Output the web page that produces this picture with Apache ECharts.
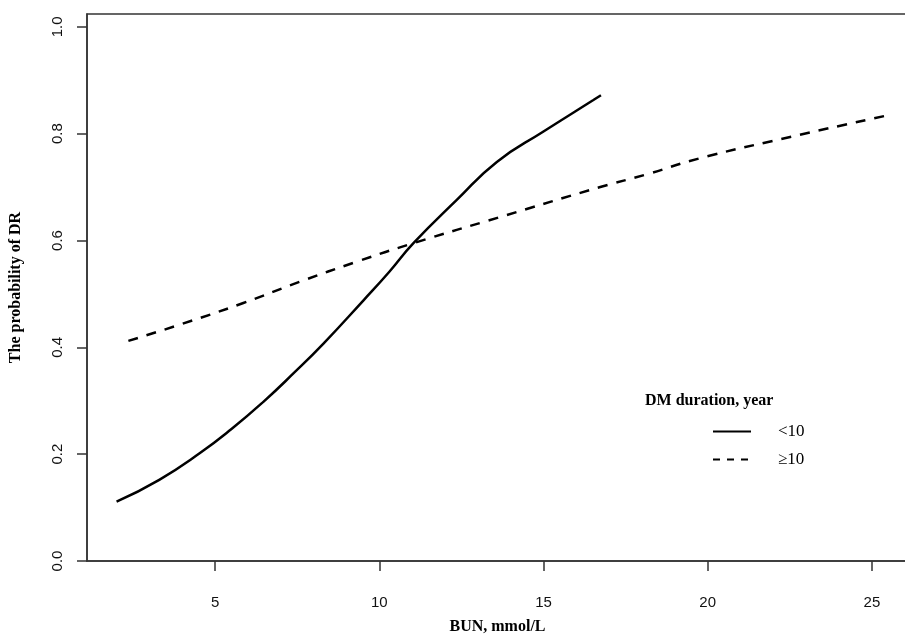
<!DOCTYPE html>
<html>
<head>
<meta charset="utf-8">
<script src="https://cdn.jsdelivr.net/npm/echarts@6/dist/echarts.min.js"></script>
<style>
  html, body { margin: 0; padding: 0; background: #fff; }
  #chart { width: 905px; height: 636px; }
</style>
</head>
<body>
<div id="chart"></div>
<script>
// curve for DM duration < 10 years: [BUN, probability]
var shortDuration = [
  [2.0, 0.111], [3.3, 0.152], [4.54, 0.202], [5.5, 0.247], [6.47, 0.298],
  [7.4, 0.352], [8.3, 0.407], [9.52, 0.488], [10.3, 0.541], [11.04, 0.595],
  [12.36, 0.676], [13.58, 0.747], [15.0, 0.804], [16.52, 0.863], [16.75, 0.872]
];

// curve for DM duration >= 10 years
var longDuration = [
  [2.36, 0.412], [4.0, 0.444], [5.86, 0.483], [7.59, 0.523], [9.3, 0.560],
  [11.04, 0.595], [13.68, 0.644], [16.73, 0.700], [18.15, 0.724],
  [19.77, 0.754], [22.31, 0.791], [25.38, 0.833]
];

var xTicks = [5, 10, 15, 20, 25];
var yTicks = [0, 0.2, 0.4, 0.6, 0.8, 1.0];

var serifBold = { fontFamily: "Liberation Serif", fontWeight: "bold", fontSize: 16, color: "#000" };

var myChart = echarts.init(document.getElementById("chart"), null, { renderer: "canvas" });

var option = {
  backgroundColor: "#fff",
  animation: false,
  title: {
    text: "DM duration, year",
    left: 640,
    top: 388,
    textStyle: serifBold
  },
  legend: {
    orient: "vertical",
    left: 707,
    top: 418,
    itemWidth: 38,
    itemHeight: 14,
    itemGap: 11,
    itemStyle: { opacity: 0 },
    lineStyle: { width: 2 },
    textStyle: {
      fontFamily: "Liberation Serif",
      fontSize: 17,
      color: "#000",
      padding: [0, 0, 0, 22]
    },
    data: [
      { name: "<10" },
      { name: "≥10", lineStyle: { type: [7, 7], width: 2 } }
    ]
  },
  grid: {
    left: 87,
    top: 14,
    width: 821,
    height: 547,
    outerBoundsMode: "none",
    containLabel: false,
    show: true,
    borderColor: "#333",
    borderWidth: 1.5
  },
  xAxis: {
    type: "value",
    min: 1.1,
    max: 26.1,
    name: "BUN, mmol/L",
    nameLocation: "middle",
    nameGap: 58,
    nameMoveOverlap: false,
    nameTextStyle: serifBold,
    splitLine: { show: false },
    axisLine: { show: true, onZero: false, lineStyle: { color: "#333", width: 1.5 } },
    axisTick: { show: true, length: 10, customValues: xTicks, lineStyle: { color: "#333", width: 1.5 } },
    axisLabel: {
      customValues: xTicks,
      margin: 34,
      fontFamily: "Liberation Sans",
      fontSize: 15,
      color: "#111"
    }
  },
  yAxis: {
    type: "value",
    min: 0,
    max: 1.024,
    name: "The probability of DR",
    nameLocation: "middle",
    nameGap: 63,
    nameMoveOverlap: false,
    nameTextStyle: serifBold,
    splitLine: { show: false },
    axisLine: { show: true, lineStyle: { color: "#333", width: 1.5 } },
    axisTick: { show: true, length: 10, customValues: yTicks, lineStyle: { color: "#333", width: 1.5 } },
    axisLabel: {
      customValues: yTicks,
      rotate: 90,
      margin: 22,
      fontFamily: "Liberation Sans",
      fontSize: 15,
      color: "#111",
      formatter: function (v) { return v.toFixed(1); }
    }
  },
  series: [
    {
      name: "<10",
      type: "line",
      data: shortDuration,
      smooth: true,
      symbol: "none",
      color: "#000",
      lineStyle: { color: "#000", width: 2.5 }
    },
    {
      name: "≥10",
      type: "line",
      data: longDuration,
      smooth: true,
      symbol: "none",
      color: "#000",
      lineStyle: { color: "#000", width: 2.5, type: [10, 9] }
    }
  ]
};

myChart.setOption(option);
window.addEventListener("resize", myChart.resize);
</script>
</body>
</html>
